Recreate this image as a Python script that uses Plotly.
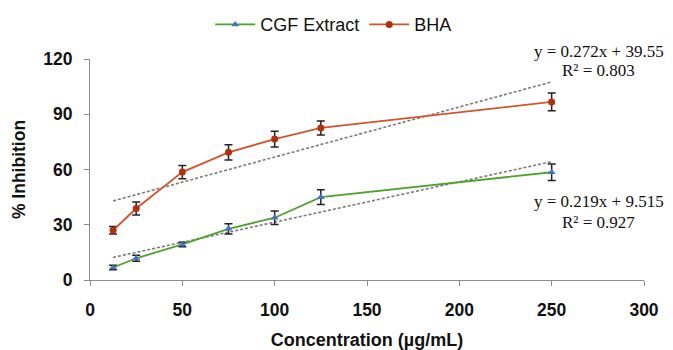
import plotly.graph_objects as go

conc = [12.5, 25, 50, 75, 100, 125, 250]
cgf = [6.8, 11.8, 19.3, 27.8, 33.8, 45.0, 58.5]
cgf_err = [1.2, 1.6, 1.2, 2.8, 3.6, 4.0, 4.5]
bha = [27.0, 38.8, 58.6, 69.3, 76.5, 82.6, 96.7]
bha_err = [2.0, 3.5, 3.6, 4.2, 4.3, 3.8, 4.8]

fit_bha = (0.272, 39.55)
fit_cgf = (0.219, 9.515)
x_ticks = [0, 50, 100, 150, 200, 250, 300]
y_ticks = [0, 30, 60, 90, 120]

fig = go.Figure()

for (m, b) in [fit_bha, fit_cgf]:
    xs = [conc[0], conc[-1]]
    fig.add_trace(go.Scatter(x=xs, y=[m * v + b for v in xs], mode="lines",
                             line=dict(color="#7a7a7a", width=1.6, dash="3px,2px"),
                             showlegend=False, hoverinfo="skip"))

fig.add_trace(go.Scatter(x=conc, y=cgf, name="CGF Extract", mode="lines+markers",
                         line=dict(color="#4fa22f", width=1.8),
                         marker=dict(symbol="triangle-up", size=7, color="#4472c4"),
                         error_y=dict(type="data", array=cgf_err, color="#222222",
                                      thickness=1.5, width=4)))
fig.add_trace(go.Scatter(x=conc, y=bha, name="BHA", mode="lines+markers",
                         line=dict(color="#d0552e", width=1.8),
                         marker=dict(symbol="circle", size=7, color="#b0300f"),
                         error_y=dict(type="data", array=bha_err, color="#222222",
                                      thickness=1.5, width=4)))

serif = dict(family="Liberation Serif, Times New Roman, serif", size=17, color="#111111")
for text, yy in [("y = 0.272x + 39.55", 1.032), ("R² = 0.803", 0.946),
                 ("y = 0.219x + 9.515", 0.353), ("R² = 0.927", 0.262)]:
    fig.add_annotation(x=0.918, y=yy, xref="paper", yref="paper", text=text,
                       showarrow=False, font=serif, xanchor="center", yanchor="middle")

sans = "Liberation Sans, Arial, sans-serif"
fig.update_layout(
    width=665, height=342,
    margin=dict(l=82, r=29, t=51, b=70, autoexpand=False),
    paper_bgcolor="white", plot_bgcolor="white",
    font=dict(family=sans, color="#111111"),
    showlegend=True,
    legend=dict(orientation="h", x=0.217, xanchor="left", y=1.155, yanchor="middle",
                font=dict(size=18, family=sans),
                itemwidth=40, bgcolor="rgba(0,0,0,0)"),
    xaxis=dict(range=[0, 300], tickvals=x_ticks, showgrid=False, zeroline=False,
               showline=True, linecolor="#8c8c8c", linewidth=1.2,
               ticks="outside", ticklen=5, tickcolor="#8c8c8c", ticklabelstandoff=9,
               tickfont=dict(size=17.5, family=sans, weight="bold"),
               title=dict(text="<b>Concentration (µg/mL)</b>", font=dict(size=18), standoff=19)),
    yaxis=dict(range=[0, 120], tickvals=y_ticks, showgrid=False, zeroline=False,
               showline=True, linecolor="#8c8c8c", linewidth=1.2,
               ticks="outside", ticklen=5, tickcolor="#8c8c8c", ticklabelstandoff=8,
               tickfont=dict(size=17.5, family=sans, weight="bold"),
               title=dict(text="<b>% Inhibition</b>", font=dict(size=17.5), standoff=13)),
)

fig.write_html("out.html")
